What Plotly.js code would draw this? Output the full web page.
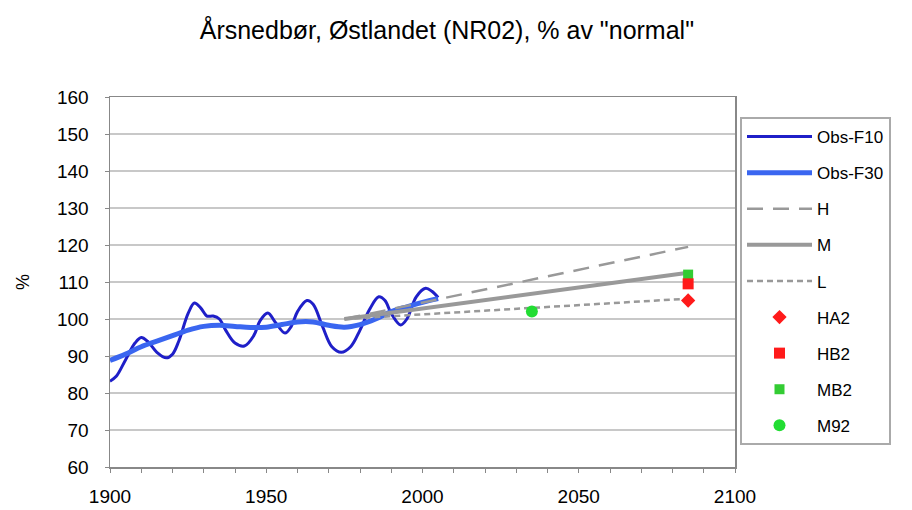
<!DOCTYPE html>
<html>
<head>
<meta charset="utf-8">
<script src="https://cdn.plot.ly/plotly-3.0.1.min.js"></script>
<style>html,body{margin:0;padding:0;background:#fff;}#chart{width:912px;height:510px;}</style>
</head>
<body>
<div id="chart"></div>
<script>
// Observed, 10-year filtered
const f10Years = [1900,1902,1905,1908,1910,1912,1915,1918,1920,1922,1925,1927,1929,1931,1933,1935,1937,1940,1943,1946,1948,1950.5,1953,1956,1958,1960,1963,1965,1968,1971,1974,1977,1980,1983,1986,1988,1990,1993,1995,1998,2001,2003,2005];
const f10Values = [83.2,84.5,89,93.5,95,94,91,89.5,90.5,94,101.5,104.3,103,100.8,100.8,100,97,93.5,92.7,95.5,99.5,101.6,99,96.2,98,102,105,104,98,92.5,91,92.5,97,102.5,106,105,101.5,98.4,100,106,108.3,107.5,105.8];
// Observed, 30-year filtered
const f30Years = [1900,1905,1910,1915,1920,1925,1930,1935,1940,1945,1950,1955,1960,1965,1970,1975,1980,1985,1990,1995,2000,2005];
const f30Values = [88.8,90.5,92.5,94,95.5,97,98,98.3,98,97.7,97.8,98.5,99.2,99.2,98.3,97.8,98.5,100,102,103.3,104.5,105.5];
// Scenarios
const scenYears = [1975, 2085];
const hValues = [100, 119.5];
const mValues = [100, 112.5];
const lValues = [100, 105.5];
// Point projections
const ha2 = {x: [2085], y: [105]};
const hb2 = {x: [2085], y: [109.5]};
const mb2 = {x: [2085], y: [112]};
const m92 = {x: [2035], y: [102]};

const traces = [
  {x: f10Years, y: f10Values, name: 'Obs-F10', mode: 'lines', line: {color: '#1f1fc8', width: 3, shape: 'spline', smoothing: 1}, legendgroup: 'a'},
  {x: f30Years, y: f30Values, name: 'Obs-F30', mode: 'lines', line: {color: '#3a66f0', width: 5, shape: 'spline', smoothing: 1}, legendgroup: 'b'},
  {x: scenYears, y: hValues, name: 'H', mode: 'lines', line: {color: '#999999', width: 2.5, dash: '16px,10px'}, legendgroup: 'c'},
  {x: scenYears, y: mValues, name: 'M', mode: 'lines', line: {color: '#999999', width: 4}, legendgroup: 'd'},
  {x: scenYears, y: lValues, name: 'L', mode: 'lines', line: {color: '#999999', width: 2.5, dash: '6px,4px'}, legendgroup: 'e'},
  {x: mb2.x, y: mb2.y, name: 'MB2', mode: 'markers', marker: {symbol: 'square', color: '#33cc33', size: 10}, legendgroup: 'h', legendrank: 8},
  {x: hb2.x, y: hb2.y, name: 'HB2', mode: 'markers', marker: {symbol: 'square', color: '#ff1a1a', size: 11}, legendgroup: 'g', legendrank: 7},
  {x: ha2.x, y: ha2.y, name: 'HA2', mode: 'markers', marker: {symbol: 'diamond', color: '#ff1a1a', size: 11}, legendgroup: 'f', legendrank: 6},
  {x: m92.x, y: m92.y, name: 'M92', mode: 'markers', marker: {symbol: 'circle', color: '#22dd33', size: 12}, legendgroup: 'i', legendrank: 9}
];
traces.forEach((t, i) => { if (t.legendrank === undefined) t.legendrank = i + 1; });

const font = {family: 'Liberation Sans, Arial, sans-serif', color: '#000'};

const layout = {
  width: 912, height: 510,
  margin: {l: 110, r: 177, t: 97, b: 43},
  paper_bgcolor: '#fff', plot_bgcolor: '#fff',
  font: Object.assign({size: 18}, font),
  title: {text: 'Årsnedbør, Østlandet (NR02), % av "normal"', x: 0.49, xanchor: 'center', y: 0.94, yanchor: 'middle', font: Object.assign({size: 25}, font)},
  showlegend: true,
  legend: {
    x: 1.008, xanchor: 'left', y: 0.946, yanchor: 'top',
    bordercolor: '#aaaaaa', borderwidth: 2, bgcolor: '#fff',
    font: Object.assign({size: 17}, font),
    tracegroupgap: 11, itemwidth: 65, traceorder: 'grouped'
  },
  xaxis: {
    range: [1900, 2100], tickvals: [1900, 1950, 2000, 2050, 2100], ticktext: ['1900','1950','2000','2050','2100'],
    showgrid: false, zeroline: false, showline: true, linecolor: '#888', linewidth: 1.5, mirror: true,
    ticks: 'outside', ticklen: 4, tickcolor: '#888', ticklabelstandoff: 8,
    minor: {dtick: 10, tick0: 1900, ticks: 'outside', ticklen: 4, tickcolor: '#888', showgrid: false},
    tickfont: Object.assign({size: 19}, font)
  },
  yaxis: {
    range: [60, 160], dtick: 10, tick0: 60,
    showgrid: true, gridcolor: '#c8c8c8', gridwidth: 2, zeroline: false,
    showline: true, linecolor: '#888', linewidth: 1.5, mirror: true,
    ticks: 'outside', ticklen: 4, tickcolor: '#888', ticklabelstandoff: 12,
    tickfont: Object.assign({size: 19}, font),
    title: {text: '%', standoff: 22, font: Object.assign({size: 18}, font)}
  }
};

Plotly.newPlot('chart', traces, layout, {displayModeBar: false, staticPlot: true});
</script>
</body>
</html>
